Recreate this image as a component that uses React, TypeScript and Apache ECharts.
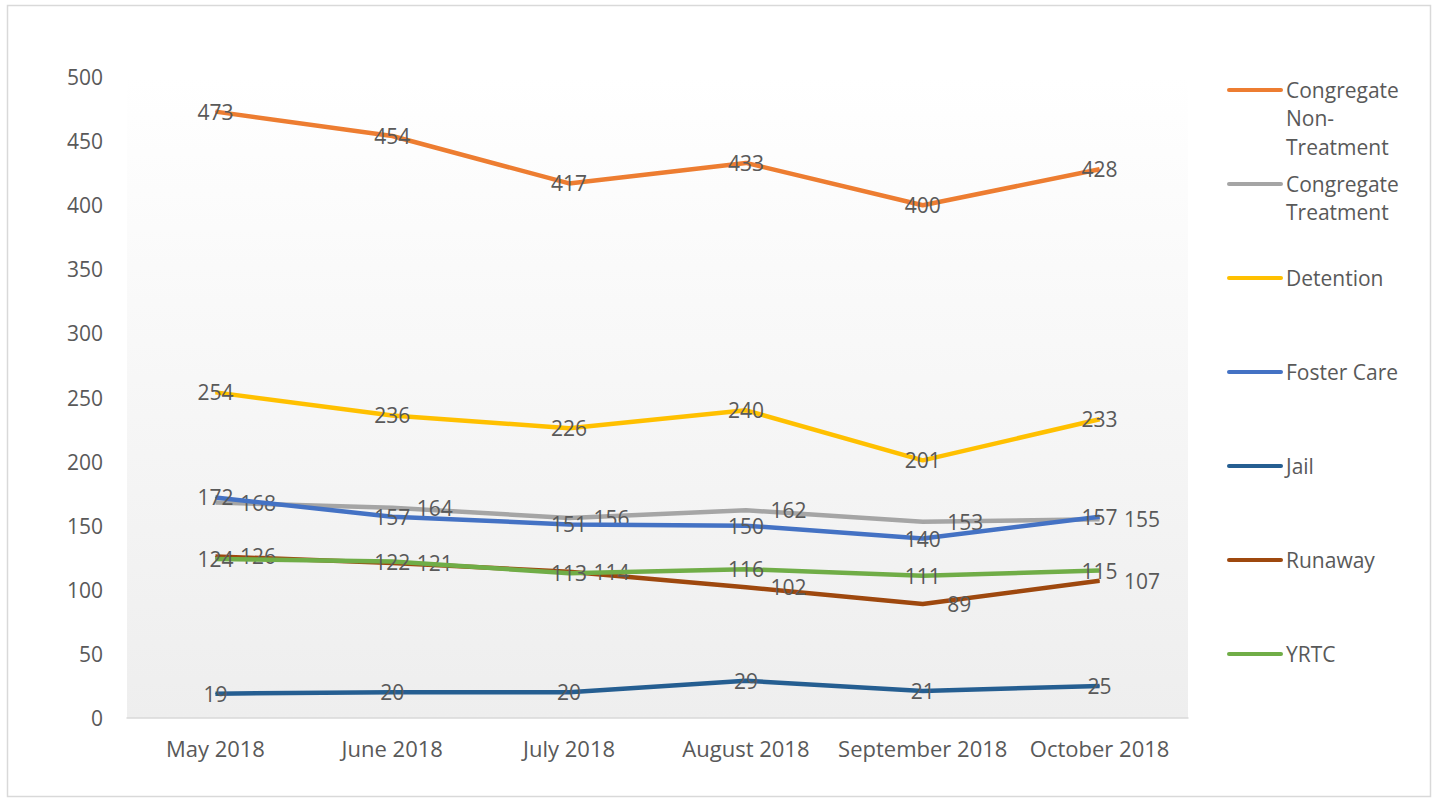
import React, { useEffect, useRef } from "react";
import * as echarts from "echarts";

const categories = ["May 2018", "June 2018", "July 2018", "August 2018", "September 2018", "October 2018"];
const seriesNames = ["Congregate Non-Treatment", "Congregate Treatment", "Detention", "Foster Care", "Jail", "Runaway", "YRTC"];
const legendLabels = ["Congregate\nNon-\nTreatment", "Congregate\nTreatment", "Detention", "Foster Care", "Jail", "Runaway", "YRTC"];
const congregateNonTreatment = [473, 454, 417, 433, 400, 428];
const congregateTreatment = [168, 164, 156, 162, 153, 155];
const detention = [254, 236, 226, 240, 201, 233];
const fosterCare = [172, 157, 151, 150, 140, 157];
const jail = [19, 20, 20, 29, 21, 25];
const runaway = [126, 121, 114, 102, 89, 107];
const yrtc = [124, 122, 113, 116, 111, 115];
const colors = ["#ED7D31", "#A5A5A5", "#FFC000", "#4472C4", "#255E91", "#9E480E", "#70AD47"];
const labelPositions = ["inside", "right", "inside", "inside", "inside", "right", "inside"];
const yTicks = [0, 50, 100, 150, 200, 250, 300, 350, 400, 450, 500];

const FONT = "'Open Sans', 'Noto Sans', sans-serif";
const TXT = "#595959";

export default function App() {
  const ref = useRef<HTMLDivElement>(null);
  useEffect(() => {
    if (!ref.current) return;
    const chart = echarts.init(ref.current, undefined, { renderer: "svg" });
    const allData = [congregateNonTreatment, congregateTreatment, detention, fosterCare, jail, runaway, yrtc];
    const legendTop = 90;
    const legendGap = 94;
    const legendGraphics: any[] = [];
    legendLabels.forEach((lbl, i) => {
      const y = legendTop + i * legendGap;
      legendGraphics.push({
        type: "line",
        shape: { x1: 1229, y1: y, x2: 1281, y2: y },
        style: { stroke: colors[i], lineWidth: 4, lineCap: "round" },
        z: 10,
      });
      legendGraphics.push({
        type: "text",
        x: 1286,
        y: y - 14.5,
        style: {
          text: lbl,
          fill: TXT,
          font: `21px ${FONT}`,
          lineHeight: 28.5,
          verticalAlign: "top",
        },
        z: 10,
      });
    });
    chart.setOption({
      animation: false,
      backgroundColor: "#ffffff",
      grid: {
        left: 127,
        right: 249,
        top: 77,
        bottom: 81,
        show: true,
        borderWidth: 0,
        backgroundColor: new echarts.graphic.LinearGradient(0, 0, 0, 1, [
          { offset: 0, color: "#ffffff" },
          { offset: 1, color: "#eeeeee" },
        ]),
      },
      xAxis: {
        type: "category",
        data: categories,
        boundaryGap: true,
        axisLine: { lineStyle: { color: "#d9d9d9", width: 1.5 } },
        axisTick: { show: false },
        axisLabel: { color: TXT, fontSize: 22, fontFamily: FONT, margin: 19, interval: 0 },
      },
      yAxis: {
        type: "value",
        min: 0,
        max: 500,
        interval: 50,
        splitLine: { show: false },
        axisLine: { show: false },
        axisTick: { show: false },
        axisLabel: {
          color: TXT,
          fontSize: 21,
          fontFamily: FONT,
          margin: 24,
          formatter: (v: number) => (yTicks.includes(v) ? String(v) : ""),
        },
      },
      series: seriesNames.map((name, i) => ({
        name,
        type: "line",
        data: allData[i],
        showSymbol: true,
        symbol: "circle",
        symbolSize: 1,
        itemStyle: { color: colors[i] },
        lineStyle: { color: colors[i], width: 4.5 },
        label: {
          show: true,
          position: labelPositions[i],
          distance: 24,
          color: TXT,
          fontSize: 21,
          fontFamily: FONT,
        },
        labelLayout: { hideOverlap: false },
        z: 2 + i,
      })),
      graphic: [
        {
          type: "rect",
          shape: { x: 7.5, y: 5.5, width: 1423, height: 791 },
          style: { fill: "none", stroke: "#d9d9d9", lineWidth: 1.5 },
          silent: true,
        },
        ...legendGraphics,
      ],
    });
    return () => chart.dispose();
  }, []);
  return (
    <div
      ref={ref}
      style={{ position: "absolute", left: 0, top: 0, width: 1437, height: 799 }}
    />
  );
}
